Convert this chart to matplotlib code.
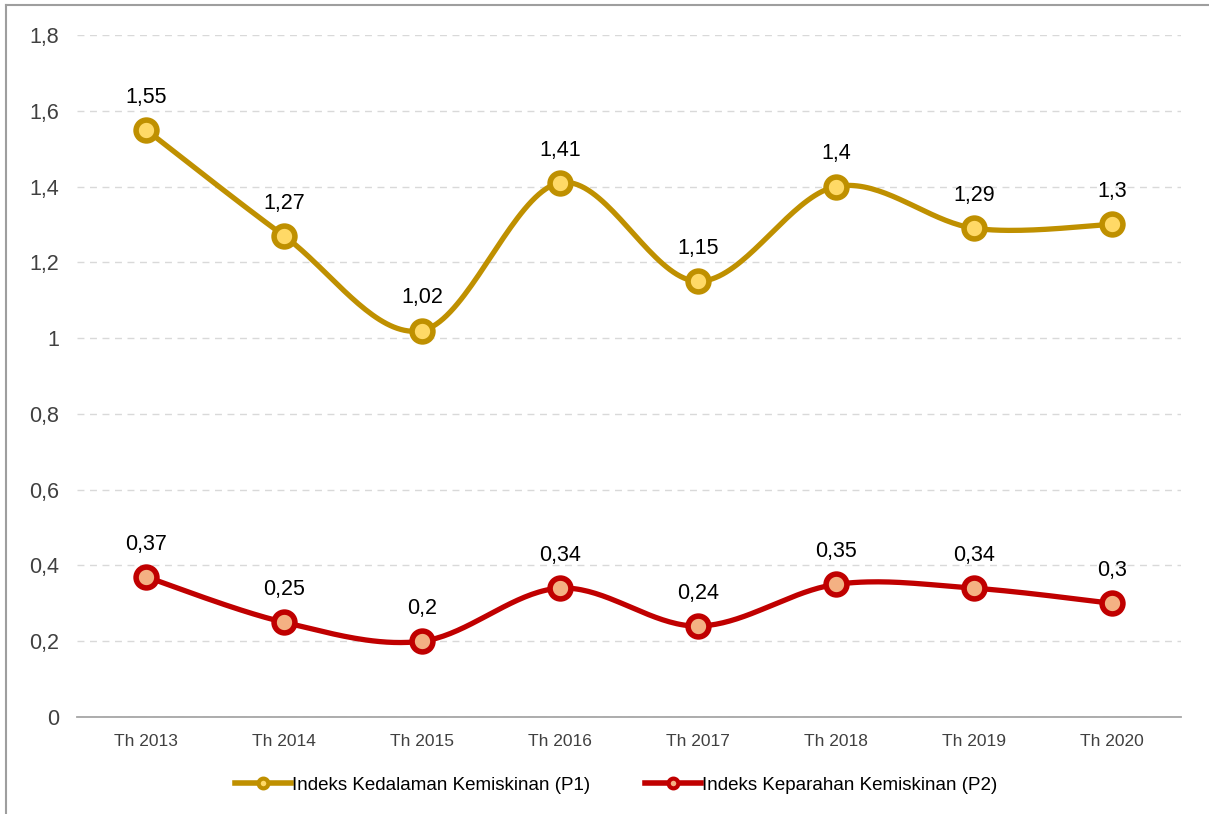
import numpy as np
import matplotlib
matplotlib.use("Agg")
import matplotlib.pyplot as plt
from matplotlib.lines import Line2D

categories = ["Th 2013", "Th 2014", "Th 2015", "Th 2016", "Th 2017", "Th 2018", "Th 2019", "Th 2020"]
p1_values = [1.55, 1.27, 1.02, 1.41, 1.15, 1.40, 1.29, 1.30]
p2_values = [0.37, 0.25, 0.20, 0.34, 0.24, 0.35, 0.34, 0.30]
p1_labels = ["1,55", "1,27", "1,02", "1,41", "1,15", "1,4", "1,29", "1,3"]
p2_labels = ["0,37", "0,25", "0,2", "0,34", "0,24", "0,35", "0,34", "0,3"]
yticks = [0, 0.2, 0.4, 0.6, 0.8, 1.0, 1.2, 1.4, 1.6, 1.8]
ytick_labels = ["0", "0,2", "0,4", "0,6", "0,8", "1", "1,2", "1,4", "1,6", "1,8"]
series_names = ["Indeks Kedalaman Kemiskinan (P1)", "Indeks Keparahan Kemiskinan (P2)"]

plt.rcParams['font.family'] = ['Liberation Sans', 'DejaVu Sans']


def smooth(xs, ys, n=40, tension=0.5):
    # Catmull-Rom style smoothing similar to spreadsheet "smoothed line"
    xs = np.asarray(xs, float)
    ys = np.asarray(ys, float)
    px = np.concatenate([[xs[0]], xs, [xs[-1]]])
    py = np.concatenate([[ys[0]], ys, [ys[-1]]])
    ox, oy = [], []
    for i in range(1, len(px) - 2):
        p0 = np.array([px[i - 1], py[i - 1]])
        p1 = np.array([px[i], py[i]])
        p2 = np.array([px[i + 1], py[i + 1]])
        p3 = np.array([px[i + 2], py[i + 2]])
        c1 = p1 + (p2 - p0) * tension / 3
        c2 = p2 - (p3 - p1) * tension / 3
        t = np.linspace(0, 1, n)[:, None]
        pts = ((1 - t) ** 3) * p1 + 3 * ((1 - t) ** 2) * t * c1 + 3 * (1 - t) * t ** 2 * c2 + t ** 3 * p2
        ox.extend(pts[:, 0])
        oy.extend(pts[:, 1])
    return np.array(ox), np.array(oy)


fig = plt.figure(figsize=(12.09, 8.14), dpi=100)
ax = fig.add_axes([77 / 1209, 1 - 717 / 814, (1181 - 77) / 1209, (717 - 35) / 814])

x = np.arange(len(categories))
gold = "#BF9000"
gold_fill = "#FFD966"
red = "#C00000"
red_fill = "#F4B183"

for vals, labs, col, fill in [(p1_values, p1_labels, gold, gold_fill), (p2_values, p2_labels, red, red_fill)]:
    sx, sy = smooth(x, vals)
    ax.plot(sx, sy, color=col, lw=3.8, solid_capstyle="round", zorder=3)
    ax.plot(x, vals, ls="none", marker="o", ms=15, mfc=fill, mec=col, mew=4, zorder=4)
    for xi, v, lab in zip(x, vals, labs):
        ax.annotate(lab, (xi, v), xytext=(0, 16), textcoords="offset points",
                    ha="center", va="bottom", fontsize=15.5, color="black")

ax.set_xlim(-0.5, len(categories) - 0.5)
ax.set_ylim(0, 1.8)
ax.set_yticks(yticks)
ax.set_yticklabels(ytick_labels, fontsize=15.5, color="#404040")
ax.set_xticks(x)
ax.set_xticklabels(categories, fontsize=12.5, color="#404040")
ax.tick_params(axis="both", length=0)
ax.tick_params(axis="y", pad=13)
ax.tick_params(axis="x", pad=12)
for s in ["top", "right", "left"]:
    ax.spines[s].set_visible(False)
ax.spines["bottom"].set_color("#A6A6A6")
ax.spines["bottom"].set_linewidth(1.3)
ax.yaxis.grid(True, color="#D9D9D9", ls=(0, (5, 4)), lw=1)
ax.set_axisbelow(True)

handles = [
    Line2D([0], [0], color=gold, lw=4, marker="o", ms=7, mfc=gold_fill, mec=gold, mew=3),
    Line2D([0], [0], color=red, lw=4, marker="o", ms=7, mfc=red_fill, mec=red, mew=3),
]
fig.legend(handles, series_names, loc="center", bbox_to_anchor=(616 / 1209, 1 - 785 / 814), ncol=2,
           frameon=False, fontsize=13.5, handlelength=3.0, handletextpad=0.05, columnspacing=2.9)

# outer border (left and top)
fig.add_artist(Line2D([6 / 1209, 6 / 1209], [0, 1 - 5 / 814], color="#9E9E9E", lw=1.5, transform=fig.transFigure))
fig.add_artist(Line2D([6 / 1209, 1], [1 - 5 / 814, 1 - 5 / 814], color="#9E9E9E", lw=1.5, transform=fig.transFigure))

fig.savefig("out.png", dpi=100)
